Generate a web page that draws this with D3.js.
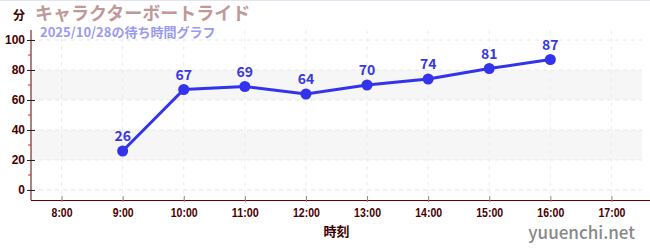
<!DOCTYPE html>
<html>
<head>
<meta charset="utf-8">
<script src="https://cdn.jsdelivr.net/npm/d3@7"></script>
<style>
  body { margin: 0; background: #fff; }
  svg { display: block; font-family: "Noto Sans CJK JP", "Noto Sans", sans-serif; }
</style>
</head>
<body>
<svg id="chart" width="650" height="250"></svg>
<script>
// 待ち時間データ
const hours = [9, 10, 11, 12, 13, 14, 15, 16];
const waits = [26, 67, 69, 64, 70, 74, 81, 87];
const xTicks = [8, 9, 10, 11, 12, 13, 14, 15, 16, 17];
const yTicks = [0, 20, 40, 60, 80, 100];
const bands = [[20, 40], [60, 80]];

const W = 650, H = 250;
const m = { left: 31, right: 8, top: 30, bottom: 50 };

const svg = d3.select("#chart");
const x = d3.scaleLinear().domain([7.5, 17.5]).range([m.left, W - m.right]);
const y = d3.scaleLinear().domain([-6.67, 106.67]).range([H - m.bottom, m.top]);

svg.append("line").attr("x1", 0).attr("x2", W).attr("y1", 0.5).attr("y2", 0.5)
    .attr("stroke", "#e4e4f4");

// bands
svg.selectAll("rect.band").data(bands).enter().append("rect")
    .attr("x", m.left).attr("width", W - m.right - m.left)
    .attr("y", d => y(d[1])).attr("height", d => y(d[0]) - y(d[1]))
    .attr("fill", "#f6f6f6");

// grid
svg.selectAll("line.hg").data(yTicks).enter().append("line")
    .attr("x1", m.left).attr("x2", W - m.right)
    .attr("y1", d => y(d)).attr("y2", d => y(d))
    .attr("stroke", "#e6e6e6").attr("stroke-dasharray", "4,4");
svg.selectAll("line.vg").data(xTicks).enter().append("line")
    .attr("x1", d => x(d)).attr("x2", d => x(d))
    .attr("y1", m.top).attr("y2", H - m.bottom)
    .attr("stroke", "#ececec").attr("stroke-dasharray", "4,4");

// y axis
const yAxis = svg.append("g").attr("transform", `translate(${m.left},0)`)
    .call(d3.axisLeft(y).tickValues(yTicks).tickSize(4).tickPadding(2));
yAxis.select(".domain").attr("stroke", "#600").attr("d", `M0,${m.top}V${H - m.bottom}`);
yAxis.selectAll(".tick line").attr("stroke", "#222").attr("x1", 4).attr("x2", -4);
yAxis.selectAll(".tick text").attr("fill", "#4a0000").style("font-size", "12px").style("font-weight", "bold");
svg.selectAll("line.ymin").data([10, 30, 50, 70, 90]).enter().append("line")
    .attr("x1", m.left - 3).attr("x2", m.left)
    .attr("y1", d => y(d)).attr("y2", d => y(d))
    .attr("stroke", "#d22");

// x axis
const xAxis = svg.append("g").attr("transform", `translate(0,${H - m.bottom})`)
    .call(d3.axisBottom(x).tickValues(xTicks).tickFormat(d => d + ":00").tickSize(4).tickPadding(4));
xAxis.select(".domain").attr("stroke", "#600").attr("d", `M${m.left},0.5H${W}`);
xAxis.selectAll(".tick line").attr("stroke", "#888").attr("y1", -4).attr("y2", 2);
xAxis.selectAll(".tick text").attr("fill", "#4a0000").style("font-size", "12px").style("font-weight", "bold")
    .attr("textLength", d => d >= 10 ? 27 : 21).attr("lengthAdjust", "spacingAndGlyphs");

// line + points
const pts = hours.map((h, i) => ({ h, v: waits[i] }));
svg.append("path").datum(pts)
    .attr("fill", "none").attr("stroke", "#3333ee").attr("stroke-width", 3)
    .attr("d", d3.line().x(d => x(d.h)).y(d => y(d.v)));
svg.selectAll("circle.pt").data(pts).enter().append("circle")
    .attr("cx", d => x(d.h)).attr("cy", d => y(d.v)).attr("r", 5.5).attr("fill", "#3333ee");
svg.selectAll("text.lbl").data(pts).enter().append("text")
    .attr("x", d => x(d.h)).attr("y", d => y(d.v) - 10)
    .attr("text-anchor", "middle").attr("fill", "#3838dd")
    .style("font-size", "14px").style("font-weight", "bold").text(d => d.v);

// texts
svg.append("text").attr("x", 13).attr("y", 20).attr("fill", "#3a0000")
    .style("font-size", "12px").style("font-weight", "bold").text("分");
svg.append("text").attr("x", 35).attr("y", 20).attr("fill", "#c09898")
    .style("font-size", "18px").style("font-weight", "bold").text("キャラクターボートライド");
svg.append("text").attr("x", 40).attr("y", 37).attr("fill", "#9a9af0")
    .style("font-size", "13px").style("font-weight", "bold").text("2025/10/28の待ち時間グラフ");
svg.append("text").attr("x", x(12.5)).attr("y", 236).attr("text-anchor", "middle").attr("fill", "#3a0000")
    .style("font-size", "13px").style("font-weight", "bold").text("時刻");
svg.append("text").attr("x", 635).attr("y", 239).attr("text-anchor", "end").attr("fill", "#888")
    .style("font-size", "17px").style("font-weight", "500").text("yuuenchi.net");
</script>
</body>
</html>
